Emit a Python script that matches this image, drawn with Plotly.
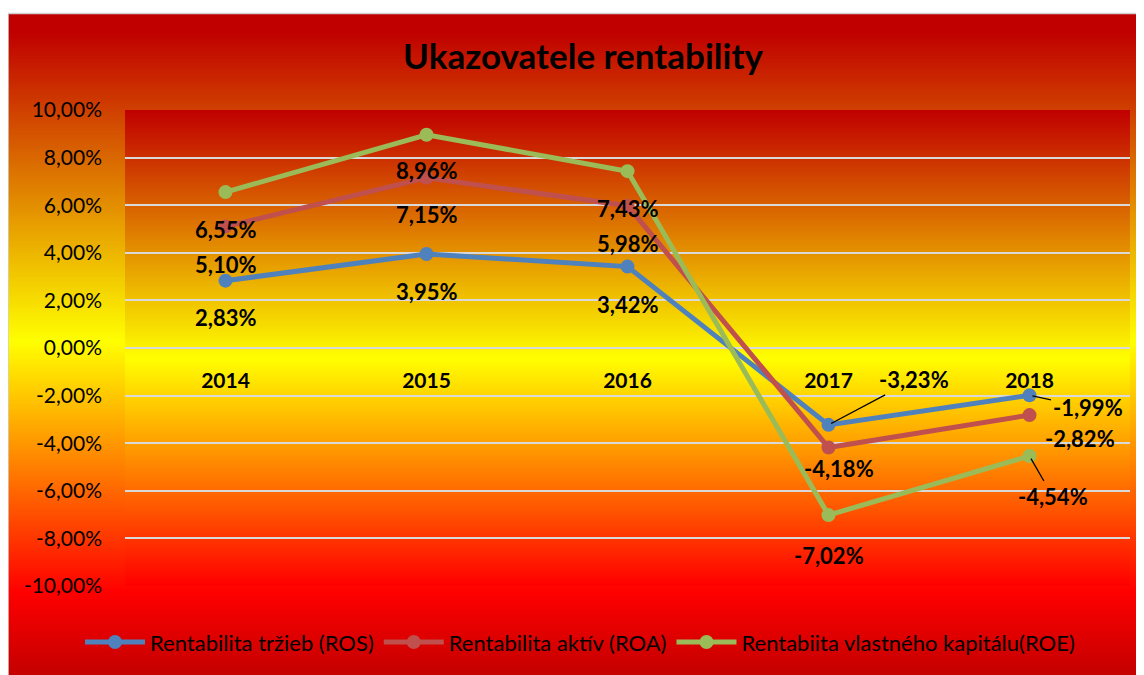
import base64
import struct
import zlib

import plotly.graph_objects as go

# ---------------- data ----------------
years = ["2014", "2015", "2016", "2017", "2018"]
ros = [2.83, 3.95, 3.42, -3.23, -1.99]
roa = [5.10, 7.15, 5.98, -4.18, -2.82]
roe = [6.55, 8.96, 7.43, -7.02, -4.54]
series_names = ["Rentabilita tržieb (ROS)", "Rentabilita aktív (ROA)",
                "Rentabiita vlastného kapitálu(ROE)"]
y_ticks = [10, 8, 6, 4, 2, 0, -2, -4, -6, -8, -10]
title_text = "Ukazovatele rentability"

# ---------------- styling ----------------
OFF = 8                      # page body margin
W, H = 1144 - OFF, 675 - OFF
# reference-pixel geometry of the plot area
P_L, P_R, P_T, P_B = 125, 1130, 110, 593
ML, MT = P_L - OFF, P_T - OFF
MR, MB = W - (P_R - OFF), H - (P_B - OFF)
PW, PH = P_R - P_L, P_B - P_T
colors = ["#4F81BD", "#C0504D", "#9BBB59"]
FONT = "Lato"

# label offsets (pixels, right / down) relative to each marker; arrow flag
label_offsets = [
    [(0, 37, False), (0, 38, False), (0, 38, False), (85, -45, True), (58, 12, True)],
    [(0, 38, False), (0, 37, False), (0, 38, False), (10, 21, False), (50, 23, False)],
    [(0, 37, False), (0, 36, False), (0, 37, False), (0, 40, False), (23, 40, True)],
]


def fmt(v):
    return f"{v:.2f}".replace(".", ",") + "%"


def png_gradient(stops, n=400):
    """Vertical 1px-wide gradient PNG as data URI. stops: [(frac, (r,g,b)), ...]"""
    rows = []
    for i in range(n):
        t = i / (n - 1)
        for (f0, c0), (f1, c1) in zip(stops[:-1], stops[1:]):
            if f0 <= t <= f1:
                k = 0 if f1 == f0 else (t - f0) / (f1 - f0)
                rows.append(tuple(int(round(a + (b - a) * k)) for a, b in zip(c0, c1)))
                break
    raw = b"".join(b"\x00" + bytes(r) for r in rows)

    def chunk(tag, data):
        c = struct.pack(">I", len(data)) + tag + data
        return c + struct.pack(">I", zlib.crc32(tag + data) & 0xFFFFFFFF)

    png = b"\x89PNG\r\n\x1a\n"
    png += chunk(b"IHDR", struct.pack(">IIBBBBB", 1, n, 8, 2, 0, 0, 0))
    png += chunk(b"IDAT", zlib.compress(raw, 9))
    png += chunk(b"IEND", b"")
    return "data:image/png;base64," + base64.b64encode(png).decode()


def px_x(p):          # reference pixel -> paper x
    return (p - P_L) / PW


def px_y(p):          # reference pixel -> paper y
    return (P_B - p) / PH


# chart area (reference pixels): y 12 -> 690
ca_top, ca_bot = 12, 690
ca_h = ca_bot - ca_top
chart_grad = png_gradient([
    (0.0, (192, 0, 0)),
    ((30 - ca_top) / ca_h, (192, 0, 0)),
    ((345 - ca_top) / ca_h, (255, 255, 0)),
    ((600 - ca_top) / ca_h, (255, 0, 0)),
    (1.0, (192, 0, 0)),
])
plot_grad = png_gradient([
    (0.0, (192, 0, 0)),
    ((362 - P_T) / PH, (255, 255, 0)),
    (1.0, (255, 0, 0)),
])

fig = go.Figure()
for name, vals, col in zip(series_names, [ros, roa, roe], colors):
    fig.add_trace(go.Scatter(
        x=years, y=vals, name=name, mode="lines+markers",
        line=dict(color=col, width=5),
        marker=dict(color=col, size=14),
        hoverinfo="x+y",
    ))

annotations = []
for vals, offs in zip([ros, roa, roe], label_offsets):
    for i, (v, (dx, dy, arrow)) in enumerate(zip(vals, offs)):
        a = dict(x=i, y=v, xref="x", yref="y", text="<b>" + fmt(v) + "</b>",
                 font=dict(family=FONT, size=22, color="black"))
        if arrow:
            a.update(showarrow=True, ax=dx, ay=dy, arrowhead=0, arrowwidth=1.3,
                     arrowcolor="black", standoff=3)
        else:
            a.update(showarrow=False, xshift=dx, yshift=-dy)
        annotations.append(a)

fig.update_layout(
    width=W, height=H,
    margin=dict(l=ML, r=MR, t=MT, b=MB),
    paper_bgcolor="white",
    plot_bgcolor="rgba(0,0,0,0)",
    title=dict(text="<b>" + title_text + "</b>", x=(583 - OFF) / W, xanchor="center",
               y=1 - (57 - OFF) / H, yanchor="middle", yref="container",
               font=dict(family=FONT, size=35, color="black")),
    xaxis=dict(type="category", range=[-0.5, 4.5], showgrid=False, zeroline=False,
               showline=False, ticks="", anchor="free", position=0.5,
               ticklabelstandoff=18,
               tickfont=dict(family=FONT, size=21, color="black", weight="bold")),
    yaxis=dict(range=[-10, 10], tickvals=y_ticks, ticktext=[fmt(v) for v in y_ticks],
               showgrid=True, gridcolor="#D9D9D9", gridwidth=1.6, zeroline=False,
               showline=False, ticks="", ticklabelstandoff=22,
               tickfont=dict(family=FONT, size=21, color="black")),
    legend=dict(orientation="h", x=px_x(580), xanchor="center", y=px_y(650),
                yanchor="middle", bgcolor="rgba(0,0,0,0)", itemwidth=60,
                font=dict(family=FONT, size=22, color="black")),
    annotations=annotations,
    images=[
        dict(source=chart_grad, xref="paper", yref="paper",
             x=px_x(7), y=px_y(ca_top), sizex=(1160 - 7) / PW, sizey=ca_h / PH,
             sizing="stretch", xanchor="left", yanchor="top", layer="below"),
        dict(source=plot_grad, xref="paper", yref="paper",
             x=0, y=1, sizex=1, sizey=1,
             sizing="stretch", xanchor="left", yanchor="top", layer="below"),
    ],
    shapes=[
        dict(type="rect", xref="paper", yref="paper", x0=px_x(8), x1=px_x(1160),
             y0=px_y(700), y1=px_y(ca_top), line=dict(color="#D0D0D0", width=1.5),
             fillcolor="rgba(0,0,0,0)", layer="above"),
    ],
    showlegend=True,
)

fig.write_html("out.html")
